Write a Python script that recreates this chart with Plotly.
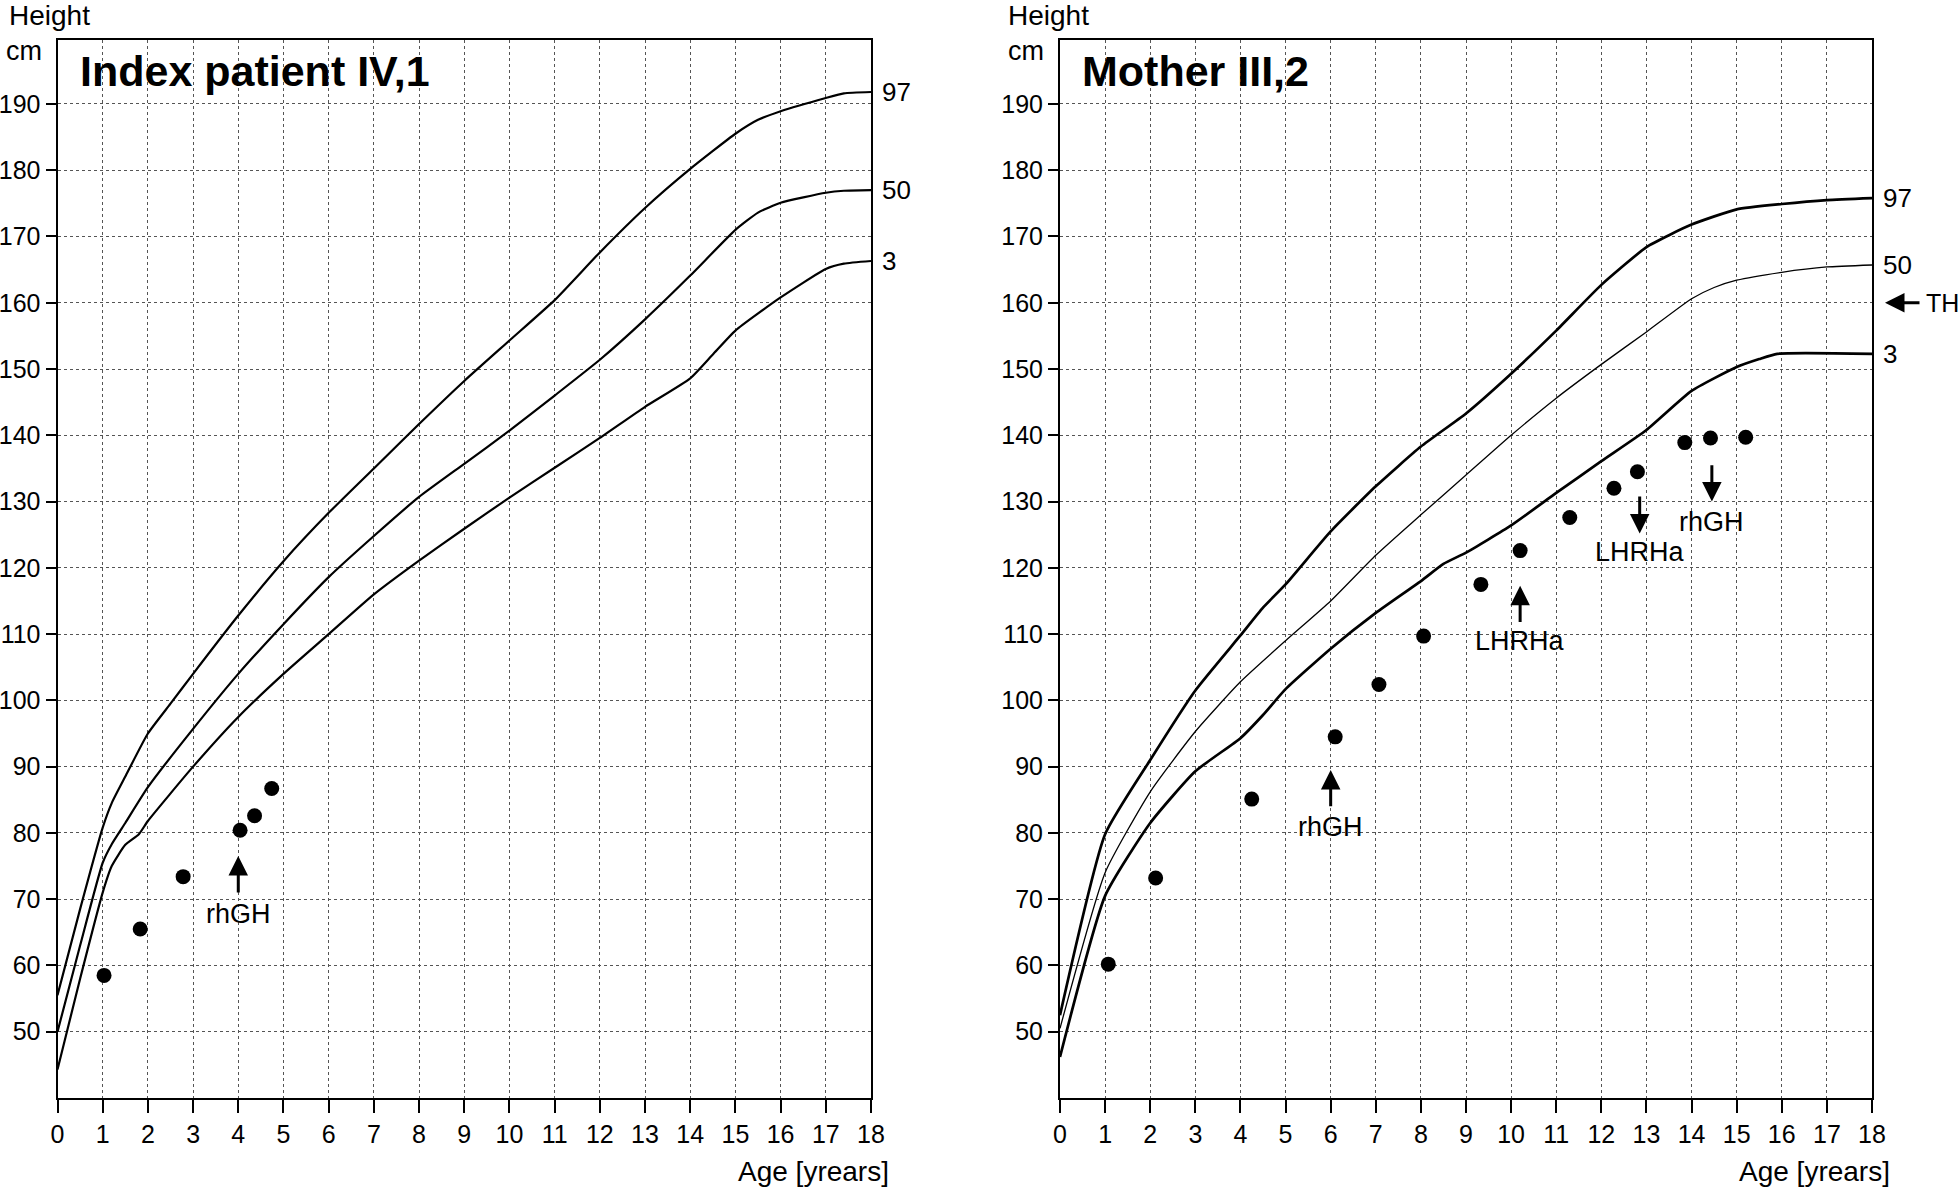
import plotly.graph_objects as go

# ---------------- data ----------------
# Index patient IV,1 (left panel) reference percentiles
L_p97_age = [0, 0.5, 1, 1.2, 1.5, 2, 2.5, 3, 4, 5, 6, 7, 8, 9, 10, 11, 12, 13, 14, 15, 15.5, 16, 17, 17.4, 18]
L_p97_h = [55.5, 68.5, 80.8, 84.5, 88.5, 95, 99.5, 104, 112.8, 121, 128.3, 135, 141.7, 148.2, 154.3, 160.4, 167.6, 174.3, 180.2, 185.5, 187.6, 188.9, 190.9, 191.6, 191.8]
L_p50_age = [0, 0.5, 1, 1.2, 1.5, 2, 3, 4, 5, 6, 7, 8, 9, 10, 11, 12, 13, 14, 15, 15.5, 16, 17, 17.4, 18]
L_p50_h = [50, 63, 75.5, 78.3, 81.5, 86.9, 95.7, 104, 111.5, 118.6, 124.8, 130.7, 135.7, 140.7, 146, 151.4, 157.5, 164.1, 171, 173.6, 175.1, 176.6, 176.9, 177]
L_p3_age = [0, 0.5, 1, 1.2, 1.5, 1.8, 2, 3, 4, 5, 6, 7, 8, 9, 10, 11, 12, 13, 14, 14.5, 15, 16, 17, 17.4, 18]
L_p3_h = [44.3, 58, 71, 75, 78.2, 79.8, 81.8, 90, 97.5, 104, 110, 116, 121.1, 125.9, 130.6, 135.1, 139.6, 144.3, 148.6, 152.2, 155.8, 160.8, 165.1, 165.9, 166.3]
L_pts_age = [1.03, 1.83, 2.78, 4.04, 4.36, 4.74]
L_pts_h = [58.5, 65.5, 73.4, 80.4, 82.6, 86.7]

# Mother III,2 (right panel) reference percentiles
R_p97_age = [0, 1, 2, 3, 4, 4.5, 5, 6, 7, 8, 9, 10, 11, 12, 13, 13.5, 14, 15, 16, 17, 18]
R_p97_h = [52.5, 79.8, 91, 101.5, 109.8, 114, 117.5, 125.5, 132.3, 138.3, 143.3, 149.3, 155.8, 162.7, 168.4, 170.2, 171.8, 174.1, 174.9, 175.5, 175.8]
R_p50_age = [0, 1, 2, 3, 4, 5, 6, 7, 8, 9, 10, 11, 12, 13, 14, 14.5, 15, 16, 17, 18]
R_p50_h = [50.5, 74, 86.2, 95.3, 102.8, 109, 115, 121.9, 128, 134, 140, 145.6, 150.7, 155.6, 160.6, 162.3, 163.4, 164.6, 165.4, 165.7]
R_p3_age = [0, 1, 2, 3, 4, 4.5, 5, 6, 7, 8, 8.5, 9, 10, 11, 12, 13, 14, 15, 15.5, 15.9, 18]
R_p3_h = [46.2, 70.5, 81.5, 89.3, 94.3, 97.8, 101.7, 107.8, 113.2, 118, 120.6, 122.3, 126.4, 131.3, 136.1, 140.8, 146.7, 150.3, 151.5, 152.3, 152.3]
R_pts_age = [1.07, 2.12, 4.25, 6.1, 7.07, 8.06, 9.33, 10.2, 11.3, 12.28, 12.8, 13.85, 14.42, 15.2]
R_pts_h = [60.2, 73.2, 85.1, 94.5, 102.4, 109.7, 117.5, 122.6, 127.6, 132.0, 134.5, 138.9, 139.6, 139.7]

# treatment arrows: label, age, tail height, tip height, label height
L_arrows = [("rhGH", 4.0, 70.8, 76.5, 67.7)]
R_arrows = [("rhGH", 6.0, 83.8, 89.5, 80.9),
            ("LHRHa", 10.2, 111.6, 117.3, 109.0),
            ("LHRHa", 12.85, 131.0, 125.2, 122.4),
            ("rhGH", 14.45, 135.7, 130.0, 126.9)]
target_height = 160

x_ticks = list(range(0, 19))
y_ticks = list(range(50, 200, 10))
percentile_labels = ["97", "50", "3"]

# ---------------- layout constants ----------------
W, H = 1960, 1190
FONT = "Liberation Sans, Arial, sans-serif"


def px_x(p):
    return p / W


def px_y(p):
    return 1 - p / H


x_dom_L = [px_x(57.5), px_x(871)]
x_dom_R = [px_x(1060), px_x(1872)]
y_dom = [px_y(1098), px_y(40)]
y_range = [40.0, 199.65]

fig = go.Figure()


def add_panel(xa, ya, curves, widths, pts_age, pts_h):
    for (ages, hs), w in zip(curves, widths):
        fig.add_trace(go.Scatter(x=ages, y=hs, mode="lines", xaxis=xa, yaxis=ya,
                                 line=dict(color="black", width=w, shape="spline", smoothing=0.5),
                                 showlegend=False, hoverinfo="skip"))
    fig.add_trace(go.Scatter(x=pts_age, y=pts_h, mode="markers", xaxis=xa, yaxis=ya,
                             marker=dict(color="black", size=15), showlegend=False))


add_panel("x", "y", [(L_p97_age, L_p97_h), (L_p50_age, L_p50_h), (L_p3_age, L_p3_h)],
          [2.2, 2.2, 2.2], L_pts_age, L_pts_h)
add_panel("x2", "y2", [(R_p97_age, R_p97_h), (R_p50_age, R_p50_h), (R_p3_age, R_p3_h)],
          [2.7, 1.3, 2.7], R_pts_age, R_pts_h)

axis_common = dict(showline=True, linecolor="black", linewidth=2, mirror=True,
                   ticks="outside", tickcolor="black", tickwidth=2, automargin=False,
                   showgrid=True, gridcolor="#555555", gridwidth=1, griddash="dot",
                   zeroline=False, tickfont=dict(family=FONT, size=25, color="black"))

xaxis_cfg = dict(axis_common, range=[0, 18], tickvals=x_ticks, ticklen=13)
yaxis_cfg = dict(axis_common, range=y_range, tickvals=y_ticks, ticklen=10)

fig.update_layout(
    width=W, height=H,
    margin=dict(l=0, r=0, t=0, b=0, autoexpand=False),
    paper_bgcolor="white", plot_bgcolor="white",
    font=dict(family=FONT, color="black"),
    xaxis=dict(xaxis_cfg, domain=x_dom_L, anchor="y"),
    yaxis=dict(yaxis_cfg, domain=y_dom, anchor="x"),
    xaxis2=dict(xaxis_cfg, domain=x_dom_R, anchor="y2"),
    yaxis2=dict(yaxis_cfg, domain=y_dom, anchor="x2"),
)

ann = []

# panel texts
for (l, r), title, hx in [((57.5, 871), "Index patient IV,1", 7), ((1060, 1872), "Mother III,2", 1006)]:
    ann.append(dict(xref="paper", yref="paper", x=px_x(l + 20), y=px_y(71),
                    xanchor="left", yanchor="middle", showarrow=False,
                    text="<b>" + title + "</b>", font=dict(family=FONT, size=43)))
    ann.append(dict(xref="paper", yref="paper", x=px_x(hx), y=px_y(16),
                    xanchor="left", yanchor="middle", showarrow=False,
                    text="Height", font=dict(family=FONT, size=28)))
    ann.append(dict(xref="paper", yref="paper", x=px_x(l - 14), y=px_y(51),
                    xanchor="right", yanchor="middle", showarrow=False,
                    text="cm", font=dict(family=FONT, size=27)))
    ann.append(dict(xref="paper", yref="paper", x=px_x(r + 20), y=px_y(1171),
                    xanchor="right", yanchor="middle", showarrow=False,
                    text="Age [yrears]", font=dict(family=FONT, size=28)))

# percentile labels at curve ends
for xr, yr, ends in [("x", "y", [L_p97_h[-1], L_p50_h[-1], L_p3_h[-1]]),
                     ("x2", "y2", [R_p97_h[-1], R_p50_h[-1], R_p3_h[-1]])]:
    for lab, yv in zip(percentile_labels, ends):
        ann.append(dict(xref=xr, yref=yr, x=18, y=yv, xanchor="left", yanchor="middle",
                        xshift=9, showarrow=False, text=lab,
                        font=dict(family=FONT, size=26)))

# treatment arrows
for xr, yr, arrows in [("x", "y", L_arrows), ("x2", "y2", R_arrows)]:
    for lab, age, tail, tip, ly in arrows:
        ann.append(dict(xref=xr, yref=yr, x=age, y=tip, axref=xr, ayref=yr, ax=age, ay=tail,
                        showarrow=True, arrowhead=2, arrowsize=1.3, arrowwidth=3,
                        arrowcolor="black", text="", standoff=0, startstandoff=0))
        ann.append(dict(xref=xr, yref=yr, x=age, y=ly, xanchor="center", yanchor="middle",
                        showarrow=False, text=lab, font=dict(family=FONT, size=27)))

# target height arrow (TH)
ann.append(dict(xref="paper", yref="y2", x=px_x(1885), y=target_height, ax=36, ay=0,
                showarrow=True, arrowhead=2, arrowsize=1.3, arrowwidth=3,
                arrowcolor="black", text="", standoff=0))
ann.append(dict(xref="paper", yref="y2", x=px_x(1924), y=target_height, xanchor="left",
                yanchor="middle", showarrow=False, text="TH",
                font=dict(family=FONT, size=25)))

fig.update_layout(annotations=ann)
fig.write_html("out.html", config={"displayModeBar": False},
               post_script="document.body.style.margin='0';document.body.style.overflow='hidden';")
